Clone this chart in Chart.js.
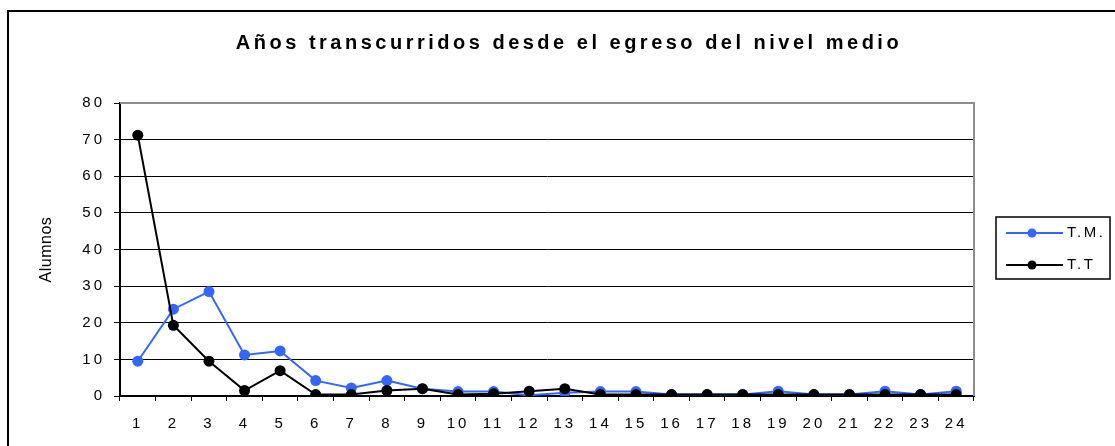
<!DOCTYPE html>
<html>
<head>
<meta charset="utf-8">
<script src="https://cdn.jsdelivr.net/npm/chart.js@4.4.1/dist/chart.umd.min.js"></script>
<style>
    html, body { margin: 0; padding: 0; background: #fff; }
    canvas { display: block; }
</style>
</head>
<body>
<canvas id="egresoChart" width="1115" height="446"></canvas>
<script>
// Years since leaving secondary school
const years = ["1", "2", "3", "4", "5", "6", "7", "8", "9", "10", "11", "12",
    "13", "14", "15", "16", "17", "18", "19", "20", "21", "22", "23", "24"];

// T.M. series (blue)
const tmValues = [9.5, 23.7, 28.5, 11.2, 12.3, 4.2, 2.2, 4.2, 2.0, 1.2, 1.2, 0.2,
    0.9, 1.2, 1.2, 0.4, 0.4, 0.4, 1.3, 0.4, 0.4, 1.3, 0.4, 1.3];

// T.T series (black)
const ttValues = [71.2, 19.3, 9.5, 1.5, 6.9, 0.4, 0.4, 1.5, 2.0, 0.4, 0.6, 1.3,
    2.0, 0.4, 0.4, 0.4, 0.4, 0.4, 0.4, 0.4, 0.4, 0.4, 0.4, 0.4];

const seriesNames = ["T.M.", "T.T"];
const chartTitle = "Años transcurridos desde el egreso del nivel medio";
const yAxisTitle = "Alumnos";
const yMin = 0, yMax = 80, yStep = 10;

const FONT = "'Liberation Sans', Arial, sans-serif";

// Frame, title, plot border, axis title and legend box like the old spreadsheet chart
const decorPlugin = {
    id: 'decor',
    beforeDraw(chart) {
        const ctx = chart.ctx;
        ctx.save();
        ctx.strokeStyle = '#000';
        ctx.lineWidth = 2;
        ctx.beginPath();
        ctx.moveTo(8, 460);
        ctx.lineTo(8, 11);
        ctx.lineTo(1130, 11);
        ctx.stroke();

        ctx.fillStyle = '#000';
        ctx.font = 'bold 20px ' + FONT;
        ctx.letterSpacing = '3.5px';
        ctx.textAlign = 'center';
        ctx.textBaseline = 'middle';
        ctx.fillText(chartTitle, 569, 43);
        ctx.restore();
        // the old chart spaces out its tick labels
        ctx.letterSpacing = '3px';
    },
    beforeDatasetsDraw(chart) {
        const ctx = chart.ctx;
        const a = chart.chartArea;
        ctx.save();
        ctx.strokeStyle = '#8c8c8c';
        ctx.lineWidth = 2;
        ctx.beginPath();
        ctx.moveTo(a.left, a.top);
        ctx.lineTo(a.right, a.top);
        ctx.lineTo(a.right, a.bottom);
        ctx.stroke();
        ctx.restore();
    },
    afterDraw(chart) {
        const ctx = chart.ctx;
        const a = chart.chartArea;
        ctx.save();
        ctx.letterSpacing = '0.5px';
        ctx.fillStyle = '#000';
        ctx.font = '16px ' + FONT;
        ctx.textAlign = 'center';
        ctx.textBaseline = 'middle';
        ctx.translate(47, (a.top + a.bottom) / 2);
        ctx.rotate(-Math.PI / 2);
        ctx.fillText(yAxisTitle, 0, 0);
        ctx.restore();

        ctx.save();
        ctx.letterSpacing = '2.5px';
        ctx.strokeStyle = '#000';
        ctx.lineWidth = 1.5;
        ctx.strokeRect(996, 217, 114, 62);
        chart.data.datasets.forEach((ds, i) => {
            const y = 233 + i * 32;
            ctx.strokeStyle = ds.borderColor;
            ctx.lineWidth = 2;
            ctx.beginPath();
            ctx.moveTo(1006, y);
            ctx.lineTo(1063, y);
            ctx.stroke();
            ctx.fillStyle = ds.backgroundColor;
            ctx.beginPath();
            ctx.arc(1032, y, 4.5, 0, Math.PI * 2);
            ctx.fill();
            ctx.fillStyle = '#000';
            ctx.font = '15px ' + FONT;
            ctx.textAlign = 'left';
            ctx.textBaseline = 'middle';
            ctx.fillText(ds.label, 1067, y);
        });
        ctx.restore();
    }
};

const ctx = document.getElementById('egresoChart').getContext('2d');
const egresoChart = new Chart(ctx, {
    type: 'line',
    data: {
        labels: years,
        datasets: [{
            label: seriesNames[0],
            data: tmValues,
            borderColor: '#3366ff',
            backgroundColor: '#3366ff',
            borderWidth: 2,
            pointRadius: 5.5,
            pointBorderWidth: 0,
            tension: 0,
            order: 1
        }, {
            label: seriesNames[1],
            data: ttValues,
            borderColor: '#000000',
            backgroundColor: '#000000',
            borderWidth: 2,
            pointRadius: 5.5,
            pointBorderWidth: 0,
            tension: 0,
            order: 0
        }]
    },
    options: {
        responsive: false,
        animation: false,
        layout: { padding: { left: 0, right: 141, top: 103, bottom: 0 } },
        plugins: {
            legend: { display: false },
            title: { display: false },
            tooltip: { enabled: false }
        },
        scales: {
            x: {
                type: 'category',
                offset: true,
                afterFit(scale) { scale.height = 50; },
                border: { color: '#000', width: 2 },
                grid: {
                    offset: true,
                    drawOnChartArea: false,
                    tickLength: 5,
                    tickColor: '#000'
                },
                ticks: {
                    color: '#000',
                    font: { family: FONT, size: 15 },
                    padding: 14,
                    maxRotation: 0,
                    autoSkip: false
                }
            },
            y: {
                min: yMin,
                max: yMax,
                afterFit(scale) { scale.width = 120; },
                border: { color: '#000', width: 2 },
                grid: {
                    color: c => c.tick && c.tick.value === yMax ? 'rgba(0,0,0,0)' : '#000',
                    lineWidth: 1,
                    tickLength: 6,
                    tickColor: '#000'
                },
                ticks: {
                    stepSize: yStep,
                    color: '#000',
                    font: { family: FONT, size: 15 },
                    padding: 9
                }
            }
        }
    },
    plugins: [decorPlugin]
});
</script>
</body>
</html>
